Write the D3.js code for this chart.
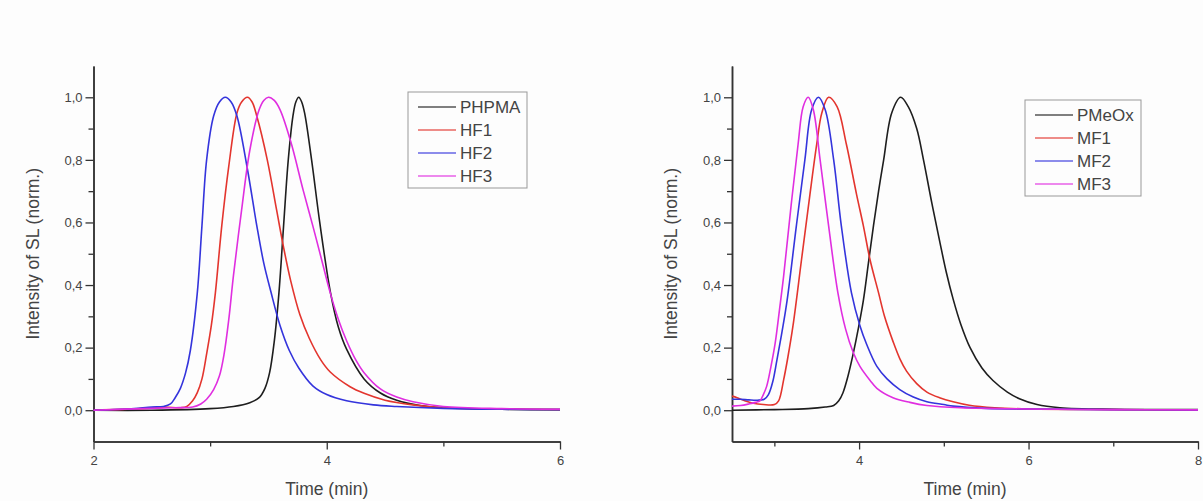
<!DOCTYPE html>
<html>
<head>
<meta charset="utf-8">
<script src="https://cdn.jsdelivr.net/npm/d3@7"></script>
<style>
  body { margin: 0; background: #fdfdfd; }
  #chart { width: 1203px; height: 501px; }
  text { font-family: "Liberation Sans", Arial, sans-serif; }
</style>
</head>
<body>
<div id="chart"></div>
<script>
// ---- data: [time (min), normalized intensity] ----
const phpma = [[2.0,0.0],[2.5,0.0],[3.0,0.005],[3.2,0.012],[3.34,0.024],[3.42,0.04],[3.47,0.07],[3.51,0.12],[3.55,0.22],
  [3.59,0.375],[3.63,0.59],[3.67,0.80],[3.71,0.94],[3.735,0.985],[3.76,1.0],[3.785,0.985],[3.81,0.95],[3.87,0.80],
  [3.94,0.60],[4.03,0.38],[4.10,0.265],[4.17,0.195],[4.32,0.10],[4.46,0.055],[4.60,0.032],[4.80,0.015],[5.0,0.008],
  [5.5,0.003],[6.0,0.002]];
const hf1 = [[2.0,0.0],[2.4,0.005],[2.6,0.01],[2.75,0.008],[2.80,0.012],[2.85,0.03],[2.89,0.056],[2.93,0.10],[2.97,0.18],
  [3.01,0.27],[3.045,0.375],[3.10,0.59],[3.16,0.78],[3.23,0.95],[3.27,0.985],[3.32,1.0],[3.36,0.985],[3.40,0.94],
  [3.49,0.80],[3.57,0.64],[3.63,0.52],[3.69,0.415],[3.77,0.305],[3.85,0.23],[3.95,0.16],[4.03,0.122],[4.2,0.075],
  [4.32,0.054],[4.5,0.032],[4.74,0.017],[5.0,0.008],[5.5,0.004],[6.0,0.002]];
const hf2 = [[2.0,0.0],[2.3,0.004],[2.5,0.01],[2.6,0.012],[2.66,0.02],[2.70,0.04],[2.745,0.07],[2.79,0.12],[2.83,0.19],
  [2.89,0.375],[2.93,0.59],[2.97,0.80],[3.03,0.94],[3.08,0.985],[3.13,1.0],[3.18,0.985],[3.23,0.94],[3.32,0.77],
  [3.40,0.59],[3.46,0.47],[3.52,0.38],[3.60,0.27],[3.68,0.19],[3.76,0.135],[3.88,0.078],[4.0,0.05],[4.17,0.03],
  [4.4,0.017],[4.6,0.012],[5.0,0.006],[5.5,0.003],[6.0,0.002]];
const hf3 = [[2.0,0.0],[2.5,0.006],[2.7,0.008],[2.85,0.01],[2.92,0.02],[2.97,0.035],[3.03,0.066],[3.08,0.11],[3.12,0.18],
  [3.16,0.29],[3.20,0.43],[3.27,0.64],[3.34,0.83],[3.42,0.96],[3.46,0.99],[3.50,1.0],[3.55,0.99],[3.60,0.96],
  [3.69,0.86],[3.80,0.70],[3.88,0.59],[3.96,0.475],[4.03,0.375],[4.10,0.29],[4.17,0.222],[4.25,0.16],[4.32,0.12],
  [4.46,0.068],[4.6,0.042],[4.74,0.027],[5.0,0.012],[5.5,0.005],[6.0,0.003]];

const pmeox = [[2.5,0.0],[3.0,0.002],[3.4,0.005],[3.6,0.01],[3.70,0.015],[3.76,0.03],[3.81,0.056],[3.87,0.11],[3.93,0.18],
  [3.99,0.26],[4.05,0.35],[4.11,0.47],[4.17,0.59],[4.23,0.70],[4.29,0.80],[4.385,0.95],[4.49,1.0],[4.58,0.97],
  [4.68,0.90],[4.76,0.80],[4.86,0.66],[4.955,0.535],[5.03,0.44],[5.11,0.355],[5.2,0.275],[5.31,0.20],[5.45,0.135],
  [5.58,0.095],[5.75,0.058],[5.90,0.036],[6.1,0.018],[6.37,0.008],[7.0,0.003],[8.0,0.002]];
const mf1 = [[2.5,0.045],[2.56,0.04],[2.65,0.03],[2.75,0.022],[2.87,0.018],[3.0,0.018],[3.05,0.03],[3.11,0.098],[3.16,0.17],
  [3.22,0.27],[3.32,0.48],[3.42,0.69],[3.50,0.85],[3.56,0.95],[3.64,1.0],[3.74,0.97],[3.85,0.85],[3.97,0.69],
  [4.05,0.59],[4.13,0.48],[4.23,0.375],[4.30,0.30],[4.40,0.22],[4.48,0.165],[4.56,0.125],[4.68,0.085],[4.80,0.058],
  [4.95,0.04],[5.11,0.027],[5.3,0.016],[5.6,0.008],[6.0,0.004],[7.0,0.002],[8.0,0.001]];
const mf2 = [[2.5,0.035],[2.6,0.035],[2.7,0.033],[2.8,0.032],[2.88,0.035],[2.93,0.05],[2.98,0.09],[3.03,0.16],[3.09,0.25],
  [3.15,0.35],[3.26,0.59],[3.36,0.80],[3.44,0.96],[3.52,1.0],[3.60,0.96],[3.70,0.80],[3.79,0.59],[3.91,0.375],
  [4.01,0.27],[4.09,0.21],[4.21,0.14],[4.33,0.10],[4.48,0.066],[4.64,0.042],[4.80,0.027],[5.0,0.018],[5.11,0.013],
  [5.5,0.006],[6.0,0.004],[7.0,0.002],[8.0,0.001]];
const mf3 = [[2.5,0.013],[2.6,0.015],[2.7,0.02],[2.78,0.025],[2.83,0.03],[2.87,0.05],[2.91,0.077],[2.96,0.14],[3.01,0.215],
  [3.06,0.32],[3.11,0.43],[3.20,0.66],[3.28,0.85],[3.34,0.97],[3.40,1.0],[3.46,0.96],[3.54,0.80],[3.64,0.59],
  [3.75,0.375],[3.84,0.26],[3.93,0.185],[4.01,0.14],[4.13,0.095],[4.21,0.07],[4.40,0.04],[4.60,0.025],[4.80,0.015],
  [5.2,0.008],[6.0,0.004],[7.0,0.002],[8.0,0.001]];

const leftNames = ['PHPMA', 'HF1', 'HF2', 'HF3'];
const rightNames = ['PMeOx', 'MF1', 'MF2', 'MF3'];
const seriesColors = ['#1e1e1e', '#e3352e', '#3434dc', '#e02ee0'];

const leftXTicks = [2, 4, 6];
const leftXMinor = [3, 5];
const rightXTicks = [4, 6, 8];
const rightXMinor = [3, 5, 7];
const yTicks = [0, 0.2, 0.4, 0.6, 0.8, 1.0];
const yMinor = [0.1, 0.3, 0.5, 0.7, 0.9];

const xTitle = 'Time (min)';
const yTitle = 'Intensity of SL (norm.)';

// comma decimal, as in the original
const fmt = d3.formatLocale({decimal: ',', thousands: '.', grouping: [3], currency: ['', '']}).format('.1f');

const svg = d3.select('#chart').append('svg')
    .attr('width', 1203)
    .attr('height', 501);

function drawPanel(cfg) {
    const x = d3.scaleLinear().domain(cfg.xDomain).range(cfg.xRange);
    const y = d3.scaleLinear().domain([-0.1, 1.1]).range([441.5, 66]);

    const g = svg.append('g');

    // minor ticks first, major axes over them
    g.append('g')
        .attr('transform', `translate(0, ${y(-0.1)})`)
        .call(d3.axisBottom(x).tickValues(cfg.xMinor).tickSize(5).tickSizeOuter(0).tickFormat(''));
    g.append('g')
        .attr('transform', `translate(${x(cfg.xDomain[0])}, 0)`)
        .call(d3.axisLeft(y).tickValues(yMinor).tickSize(5).tickSizeOuter(0).tickFormat(''));

    g.append('g')
        .attr('transform', `translate(0, ${y(-0.1)})`)
        .call(d3.axisBottom(x).tickValues(cfg.xTicks).tickSize(8).tickSizeOuter(0).tickPadding(6).tickFormat(d3.format('d')));
    g.append('g')
        .attr('transform', `translate(${x(cfg.xDomain[0])}, 0)`)
        .call(d3.axisLeft(y).tickValues(yTicks).tickSize(8).tickSizeOuter(0).tickPadding(3).tickFormat(fmt));

    g.selectAll('.domain').style('stroke', '#333').style('stroke-width', 1.5);
    g.selectAll('.tick line').style('stroke', '#333').style('stroke-width', 1.3);
    g.selectAll('.tick text')
        .style('font-size', '13px')
        .style('fill', '#444')
        .style('font-family', '"Liberation Sans", Arial, sans-serif');

    // axis titles
    g.append('text')
        .attr('x', (cfg.xRange[0] + cfg.xRange[1]) / 2)
        .attr('y', 495)
        .attr('text-anchor', 'middle')
        .style('font-size', '17.5px')
        .style('fill', '#444')
        .text(xTitle);
    g.append('text')
        .attr('transform', `translate(${cfg.yTitleX}, ${(y(-0.1) + y(1.1)) / 2}) rotate(-90)`)
        .attr('text-anchor', 'middle')
        .style('font-size', '17.5px')
        .style('fill', '#444')
        .text(yTitle);

    // curves
    const line = d3.line()
        .x(d => x(d[0]))
        .y(d => y(d[1]))
        .curve(d3.curveCatmullRom.alpha(0.5));

    g.selectAll('path.curve')
        .data(cfg.series)
        .enter().append('path')
        .attr('class', 'curve')
        .attr('d', d => line(d))
        .style('fill', 'none')
        .style('stroke', (d, i) => seriesColors[i])
        .style('stroke-width', 1.6)
        .style('stroke-linejoin', 'round');

    // legend
    const lg = g.append('g').attr('transform', `translate(${cfg.legend.x}, ${cfg.legend.y})`);
    lg.append('rect')
        .attr('width', cfg.legend.w)
        .attr('height', 96)
        .style('fill', 'none')
        .style('stroke', '#999')
        .style('stroke-width', 1);
    cfg.names.forEach((name, i) => {
        const ry = 15 + i * 23;
        lg.append('line')
            .attr('x1', 10).attr('x2', 48)
            .attr('y1', ry).attr('y2', ry)
            .style('stroke', seriesColors[i])
            .style('stroke-width', 1.6)
            .style('opacity', 0.75);
        lg.append('text')
            .attr('x', 52)
            .attr('y', ry)
            .attr('dominant-baseline', 'central')
            .style('font-size', '17px')
            .style('fill', '#444')
            .text(name);
    });
}

drawPanel({
    xDomain: [2, 6],
    xRange: [93.5, 560],
    xTicks: leftXTicks,
    xMinor: leftXMinor,
    series: [phpma, hf1, hf2, hf3],
    names: leftNames,
    yTitleX: 38.5,
    legend: {x: 408, y: 92, w: 119}
});

drawPanel({
    xDomain: [2.5, 8],
    xRange: [732, 1198],
    xTicks: rightXTicks,
    xMinor: rightXMinor,
    series: [pmeox, mf1, mf2, mf3],
    names: rightNames,
    yTitleX: 677,
    legend: {x: 1025, y: 100, w: 116}
});
</script>
</body>
</html>
